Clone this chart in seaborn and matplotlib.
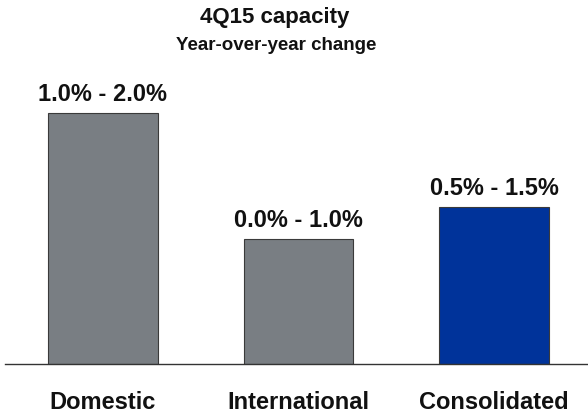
import matplotlib
matplotlib.use("Agg")
import matplotlib.pyplot as plt
import seaborn as sns
import pandas as pd

# chart data
categories = ["Domestic", "International", "Consolidated"]
heights = [2.0, 1.0, 1.25]
range_labels = ["1.0% - 2.0%", "0.0% - 1.0%", "0.5% - 1.5%"]
bar_colors = ["#797e83", "#797e83", "#00339a"]

df = pd.DataFrame({"segment": categories, "value": heights})

sns.set_theme(style="white")
plt.rcParams["font.family"] = ["Liberation Sans", "DejaVu Sans"]

fig = plt.figure(figsize=(5.88, 4.18), dpi=100)
ax = fig.add_axes([5 / 588, 54 / 418, 583 / 588, 264 / 418])

sns.barplot(data=df, x="segment", y="value", hue="segment",
            palette=dict(zip(categories, bar_colors)), legend=False,
            saturation=1, width=0.56, edgecolor="#3a3a3a", linewidth=0.8, ax=ax)

ax.set_xlim(-0.5, 2.48)
ax.set_ylim(0, 2.104)

for container, lab in zip(ax.containers, range_labels):
    ax.bar_label(container, labels=[lab], padding=5,
                 fontsize=17, fontweight="bold", color="#111111")

ax.set_xlabel("")
ax.set_ylabel("")
ax.set_yticks([])
ax.tick_params(axis="x", length=0, pad=19.5, labelsize=17)
for t in ax.get_xticklabels():
    t.set_fontweight("bold")
    t.set_color("#111111")

for side in ["top", "left", "right"]:
    ax.spines[side].set_visible(False)
ax.spines["bottom"].set_color("#333333")
ax.spines["bottom"].set_linewidth(1.0)

fig.text(0.467, 0.958, "4Q15 capacity", ha="center", va="center",
         fontsize=16, fontweight="bold", color="#111111")
fig.text(0.470, 0.892, "Year-over-year change", ha="center", va="center",
         fontsize=13.5, fontweight="bold", color="#111111")

fig.savefig("out.png", dpi=100)
